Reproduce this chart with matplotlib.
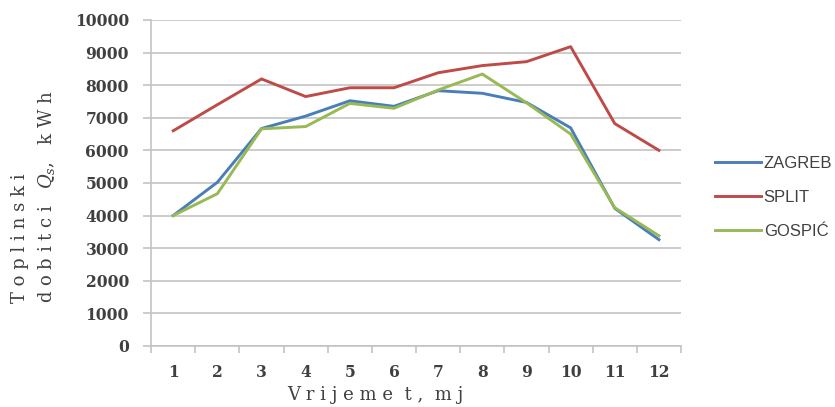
import matplotlib.pyplot as plt
import numpy as np

plt.rcParams['mathtext.fontset'] = 'dejavuserif'

# months and heat gains (kWh)
months = [1, 2, 3, 4, 5, 6, 7, 8, 9, 10, 11, 12]
zagreb = [4000, 5020, 6670, 7050, 7520, 7350, 7830, 7750, 7470, 6690, 4220, 3260]
split = [6600, 7400, 8190, 7650, 7920, 7920, 8380, 8600, 8720, 9180, 6820, 6000]
gospic = [4000, 4670, 6660, 6730, 7440, 7290, 7850, 8340, 7460, 6500, 4240, 3380]
yticks = [0, 1000, 2000, 3000, 4000, 5000, 6000, 7000, 8000, 9000, 10000]

colors = {'ZAGREB': '#4a7ebb', 'SPLIT': '#be4b48', 'GOSPIĆ': '#98b954'}
grid_col = '#c3c3c3'
txt_col = '#404040'

fig = plt.figure(figsize=(8.35, 4.07), dpi=100)
ax = fig.add_axes([0.181, 0.150, 0.6346, 0.801])

for name, vals in [('ZAGREB', zagreb), ('SPLIT', split), ('GOSPIĆ', gospic)]:
    ax.plot(months, vals, color=colors[name], lw=2.1, label=name, solid_joinstyle='round')

ax.set_xlim(0.5, 12.5)
ax.set_ylim(0, 10000)
ax.set_yticks(yticks)
ax.set_xticks(months)
ax.set_xticks(np.arange(0.5, 13, 1), minor=True)
ax.grid(axis='y', color=grid_col, lw=1.2)
ax.set_axisbelow(True)

for s in ['top', 'right']:
    ax.spines[s].set_visible(False)
for s in ['left', 'bottom']:
    ax.spines[s].set_color(grid_col)
    ax.spines[s].set_linewidth(1.2)

ax.tick_params(axis='x', which='major', length=0, pad=13)
ax.tick_params(axis='x', which='minor', length=5, color=grid_col, width=1.2)
ax.tick_params(axis='y', length=6, color=grid_col, width=1.2, pad=10)
for lab in ax.get_xticklabels() + ax.get_yticklabels():
    lab.set_fontfamily('DejaVu Serif')
    lab.set_fontsize(11.2)
    lab.set_fontweight('bold')
    lab.set_color(txt_col)

# axis titles with spaced letters
title_kw = dict(fontsize=13, family='DejaVu Serif', color=txt_col)
fig.text(0.449, 1 - 395 / 407, 'V r i j e m e  t ,  m j', ha='center', va='center', **title_kw)
fig.text(20 / 835, 1 - 303 / 407, 'T o p l i n s k i', rotation=90, ha='center',
         va='bottom', **title_kw)
fig.text(47 / 835, 1 - 303 / 407, r'd o b i t c i   $Q_s$,   k W h',
         rotation=90, ha='center', va='bottom', **title_kw)

leg = ax.legend(loc='center left', bbox_to_anchor=(1.035, 0.455), frameon=False,
                handlelength=2.8, handletextpad=0.15, labelspacing=1.15,
                prop={'family': 'Liberation Sans', 'size': 12})
for t in leg.get_texts():
    t.set_color(txt_col)

fig.savefig('out.png', dpi=100)
